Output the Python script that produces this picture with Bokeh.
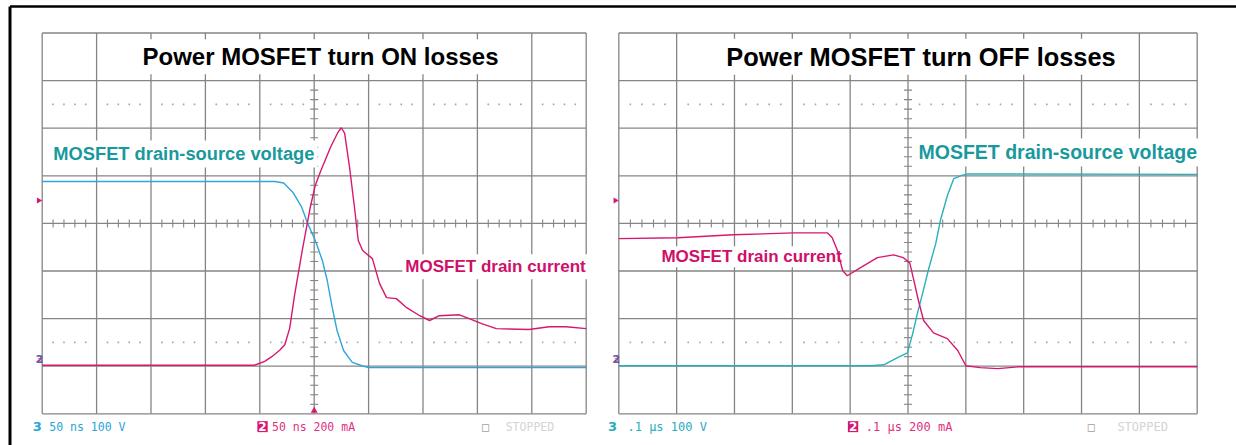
import math
from bokeh.plotting import figure
from bokeh.models import Range1d, Label
from bokeh.embed import file_html
from bokeh.resources import INLINE

# ---------------- data (oscilloscope divisions) ----------------
# Turn ON (left screen)
on_current_t = [-5.0, -1.10, -0.91, -0.78, -0.63, -0.54, -0.45, -0.36, -0.22, -0.07, 0.02, 0.12,
                0.30, 0.43, 0.50, 0.56, 0.65, 0.74, 0.81, 0.89, 1.07, 1.20, 1.33, 1.51, 1.70,
                1.94, 2.12, 2.30, 2.67, 2.85, 3.09, 3.35, 3.95, 4.32, 4.63, 5.0]
on_current = [-2.98, -2.98, -2.90, -2.80, -2.66, -2.55, -2.20, -1.50, -0.57, 0.35, 0.80, 1.10,
              1.60, 1.90, 2.01, 1.89, 1.18, 0.34, -0.36, -0.57, -0.74, -1.26, -1.56, -1.58, -1.77,
              -1.94, -2.04, -1.94, -1.92, -2.00, -2.11, -2.21, -2.23, -2.17, -2.17, -2.21]
on_voltage_t = [-5.0, -0.72, -0.56, -0.39, -0.23, -0.12, 0.02, 0.15, 0.24, 0.33, 0.42, 0.54,
                0.70, 0.88, 1.00, 5.0]
on_voltage = [0.88, 0.88, 0.85, 0.65, 0.34, 0.0, -0.36, -0.78, -1.20, -1.76, -2.25, -2.67,
              -2.92, -2.99, -3.03, -3.03]

# Turn OFF (right screen)
off_current_t = [-5.0, -3.98, -3.02, -1.98, -1.39, -1.31, -1.22, -1.13, -1.05, -0.82, -0.53,
                 -0.25, -0.08, 0.03, 0.09, 0.18, 0.27, 0.44, 0.68, 0.86, 1.00, 1.25, 1.55, 1.95, 5.0]
off_current = [-0.32, -0.30, -0.24, -0.20, -0.20, -0.30, -0.57, -0.99, -1.10, -0.93, -0.72,
               -0.66, -0.72, -0.83, -1.14, -1.62, -2.04, -2.30, -2.42, -2.67, -2.99, -3.03,
               -3.05, -3.01, -3.01]
off_voltage_t = [-5.0, -0.65, -0.42, -0.18, -0.01, 0.08, 0.16, 0.25, 0.35, 0.48, 0.56, 0.68,
                 0.79, 0.91, 1.03, 5.0]
off_voltage = [-2.99, -2.99, -2.97, -2.82, -2.72, -2.32, -1.90, -1.48, -0.99, -0.42, 0.06,
               0.58, 0.94, 1.00, 1.04, 1.03]

grid_x_divs = list(range(-5, 6))
grid_y_divs = list(range(-4, 5))
dotted_levels = [2.5, -2.5]

titles = ["Power MOSFET turn ON losses", "Power MOSFET turn OFF losses"]
voltage_label = "MOSFET drain-source voltage"
current_label = "MOSFET drain current"
left_status = ["3", "50 ns 100 V", "2", "50 ns 200 mA", "□", "STOPPED"]
right_status = ["3", ".1 µs 100 V", "2", ".1 µs 200 mA", "□", "STOPPED"]

# ---------------- layout (pixels on the picture) ----------------
W, H = 1236, 445
OX, OY = 0, 0
GY0, GY1 = 32.5, 413.3          # graticule top / bottom
LEFT_X = (41.7, 585.7)          # left graticule
RIGHT_X = (618.3, 1196.7)       # right graticule

dpy = (GY1 - GY0) / 8.0
y_end = 4 + (GY0 - OY) / dpy
y_start = y_end - H / dpy


def x_range_for(x0, x1):
    dpx = (x1 - x0) / 10.0
    start = -5 - (x0 - OX) / dpx
    return start, start + W / dpx, dpx


lx0, lx1, ldpx = x_range_for(*LEFT_X)
rx0, rx1, rdpx = x_range_for(*RIGHT_X)

p = figure(width=W, height=H, x_range=Range1d(lx0, lx1), y_range=Range1d(y_start, y_end),
           output_backend="svg", toolbar_location=None, tools="",
           x_axis_type=None, y_axis_type=None, min_border=0,
           outline_line_color=None, background_fill_color="white",
           border_fill_color="white")
p.extra_x_ranges = {"right": Range1d(rx0, rx1)}

GRID = "#858585"
DOT = "#a6a6a6"
VOLT_ON = "#2fa6db"
VOLT_OFF = "#27b1bd"
CURR = "#d8176f"
TEAL_TXT = "#17999d"
MAG_TXT = "#cf0f68"


def lab(x, y, text, color, size, rname="default", align="left", bold=True,
        bg="white", font="Liberation Sans", pad=2, level="underlay", baseline="middle",
        alpha=1.0):
    l = Label(x=x, y=y, text=text, text_color=color, text_font=font,
              text_font_size=size, text_font_style="bold" if bold else "normal",
              text_align=align, text_baseline=baseline, x_range_name=rname,
              background_fill_color=bg, padding=pad, level=level, text_alpha=alpha)
    p.add_layout(l)


for rname, dpx in (("default", ldpx), ("right", rdpx)):
    # graticule
    r = p.segment(x0=grid_x_divs, y0=[-4] * len(grid_x_divs), x1=grid_x_divs,
                  y1=[4] * len(grid_x_divs), line_color=GRID, line_width=1.3,
                  x_range_name=rname)
    r.level = "image"
    r = p.segment(x0=[-5] * len(grid_y_divs), y0=grid_y_divs, x1=[5] * len(grid_y_divs),
                  y1=grid_y_divs, line_color=GRID, line_width=1.3, x_range_name=rname)
    r.level = "image"
    # minor ticks on the centre axes
    tx = [k * 0.2 for k in range(-25, 26) if k % 5]
    ty = [k * 0.2 for k in range(-20, 21) if k % 5]
    hy = 4.0 / dpy
    hx = 4.0 / dpx
    r = p.segment(x0=tx, y0=[-hy] * len(tx), x1=tx, y1=[hy] * len(tx),
                  line_color=GRID, line_width=1.1, x_range_name=rname)
    r.level = "image"
    r = p.segment(x0=[-hx] * len(ty), y0=ty, x1=[hx] * len(ty), y1=ty,
                  line_color=GRID, line_width=1.1, x_range_name=rname)
    r.level = "image"
    # dotted rows
    dx = [k * 0.2 for k in range(-24, 25) if k % 5]
    for lv in dotted_levels:
        r = p.scatter(x=dx, y=[lv] * len(dx), marker="square", size=1.6,
                      fill_color=DOT, line_color=None, x_range_name=rname)
        r.level = "image"
    # trigger marker on left edge and ground markers
    p.scatter(x=[-5 - 3.5 / dpx], y=[0.48], marker="triangle", angle=-math.pi / 2,
              size=6, fill_color=CURR, line_color=None, x_range_name=rname)
    lab(-5 - 2.5 / dpx, -2.93, "2", CURR, "11px", rname=rname, align="center", bg=None,
        font="DejaVu Sans", pad=0, level="annotation", baseline="bottom")
    lab(-5 - 2.5 / dpx, -2.93, "3", "#3a7fc8", "11px", rname=rname, align="center", bg=None,
        font="DejaVu Sans", pad=0, level="annotation", baseline="bottom", alpha=0.75)

# bottom trigger position marker (left screen)
p.scatter(x=[0], y=[-4 + 3.0 / dpy], marker="triangle", size=7, fill_color=CURR,
          line_color=None)

# traces
p.line(on_voltage_t, on_voltage, line_color=VOLT_ON, line_width=1.4)
p.line(on_current_t, on_current, line_color=CURR, line_width=1.4)
p.line(off_voltage_t, off_voltage, line_color=VOLT_OFF, line_width=1.4, x_range_name="right")
p.line(off_current_t, off_current, line_color=CURR, line_width=1.4, x_range_name="right")

# titles and trace labels
lab(0.116, 3.50, titles[0], "black", "24px", align="center", pad=4)
lab(0.225, 3.50, titles[1], "black", "25.4px", rname="right", align="center", pad=4)
lab(-4.85, 1.46, voltage_label, TEAL_TXT, "18.3px", pad=3)
lab(1.62, -0.91, current_label, MAG_TXT, "17px", pad=3)
lab(-4.28, -0.70, current_label, MAG_TXT, "17px", rname="right", pad=1)
lab(0.13, 1.49, voltage_label, TEAL_TXT, "19.5px", rname="right", pad=3)

# status line under each screen
SY = -4.27
MONO = "DejaVu Sans Mono"
for rname, st, blue, fs, xs in (
        ("default", left_status, "#2aa5d6", "11.5px", (-5.09, -4.87, -0.95, -0.776, 3.15, 3.52)),
        ("right", right_status, "#27adc0", "12px", (-5.11, -4.85, -0.95, -0.73, 3.17, 3.62))):
    lab(xs[0], SY, st[0], blue, "13px", rname=rname, align="center", bg=None,
        font="DejaVu Sans", pad=0, level="annotation")
    lab(xs[1], SY, st[1], blue, fs, rname=rname, bold=False, bg=None, font=MONO, pad=0,
        level="annotation")
    lab(xs[2], SY, st[2], "white", "12px", rname=rname, align="center", bg=CURR,
        font="DejaVu Sans", pad=1, level="annotation")
    lab(xs[3], SY, st[3], "#e0307f", fs, rname=rname, bold=False, bg=None, font=MONO, pad=0,
        level="annotation")
    lab(xs[4], SY, st[4], "#a0a0a0", "12px", rname=rname, align="center", bold=False,
        bg=None, font=MONO, pad=0, level="annotation")
    lab(xs[5], SY, st[5], "#d4d4d4", fs, rname=rname, bold=False, bg=None, font=MONO,
        pad=0, level="annotation")

# outer frame (left and top edges of the figure box; the top edge runs past the picture)
fx = -5 - (LEFT_X[0] - OX - 9.5) / ldpx
fy = 4 + (GY0 - OY - 6.0) / dpy
fx_end = -5 - (LEFT_X[0] - OX - 1500.0) / ldpx
fy_end = y_start - 100.0 / dpy
r = p.segment(x0=[fx, fx], y0=[fy, fy_end], x1=[fx_end, fx], y1=[fy, fy],
              line_color="black", line_width=[2.5, 3.0])
r.level = "overlay"

open("out.html", "w").write(file_html(p, INLINE))
